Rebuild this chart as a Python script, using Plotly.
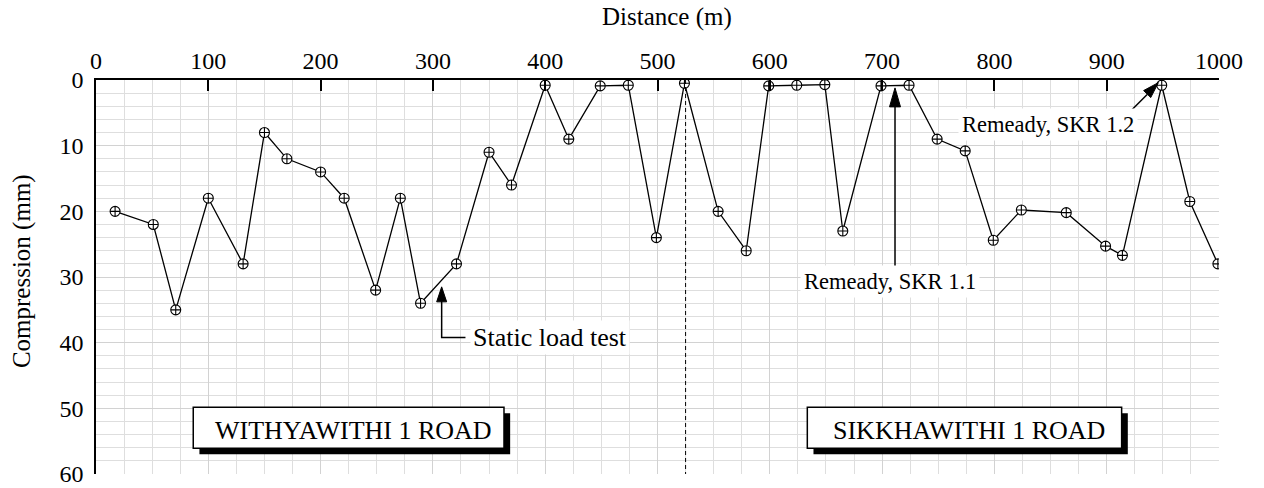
import math
import plotly.graph_objects as go

# ---- data ----
distance = [17, 51, 71, 100, 131, 150, 170, 200, 221, 249, 271, 289, 321, 350, 370,
            400, 421, 449, 474, 499, 524, 554, 579, 599, 624, 649, 665, 699, 724,
            749, 774, 799, 824, 864, 899, 914, 949, 974, 999]
compression = [20, 22, 35, 18, 28, 8, 12, 14, 18, 32, 18, 34, 28, 11, 16,
               0.8, 9, 0.9, 0.8, 24, 0.5, 20, 26, 0.9, 0.8, 0.7, 23, 0.9, 0.8,
               9, 10.8, 24.4, 19.8, 20.2, 25.3, 26.7, 0.8, 18.5, 28]
x_ticks = [0, 100, 200, 300, 400, 500, 600, 700, 800, 900, 1000]
y_ticks = [0, 10, 20, 30, 40, 50, 60]
road_boundary = 525
road_names = ["WITHYAWITHI 1 ROAD", "SIKKHAWITHI 1 ROAD"]

FONT = 'Liberation Serif, "Times New Roman", Times, "DejaVu Serif", serif'

fig = go.Figure()
fig.add_trace(go.Scatter(
    x=distance, y=compression, mode="lines+markers",
    line=dict(color="black", width=1.3),
    marker=dict(symbol="circle-cross", size=10, color="white",
                line=dict(color="black", width=1.1)),
    showlegend=False, hoverinfo="skip"))

shapes = []
annotations = []

# dashed boundary between roads
shapes.append(dict(type="line", xref="x", yref="y", x0=road_boundary, x1=road_boundary,
                   y0=0, y1=60, line=dict(color="black", width=1, dash="4px,3px"),
                   layer="above"))

def tri(tip_x, tip_y, dx, dy, length=15, width=10):
    # dx, dy: direction in pixel units (y up)
    n = math.hypot(dx, dy)
    ux, uy = dx / n, dy / n
    bx, by = -ux * length, -uy * length
    px, py = -uy * width / 2, ux * width / 2
    path = f"M0,0 L{bx+px:.2f},{by+py:.2f} L{bx-px:.2f},{by-py:.2f} Z"
    return dict(type="path", xref="x", yref="y", xsizemode="pixel", ysizemode="pixel",
                xanchor=tip_x, yanchor=tip_y, path=path,
                fillcolor="black", line=dict(color="black", width=1), layer="above")

# Static load test arrow (elbow)
shapes.append(dict(type="path", xref="x", yref="y",
                   path="M 329,39.2 L 307.8,39.2 L 307.8,33.5",
                   line=dict(color="black", width=1.5), layer="above"))
shapes.append(tri(307.8, 31.5, 0, 1, length=15, width=10))
annotations.append(dict(x=333, y=39.2, xref="x", yref="y", text="Static load test",
                        showarrow=False, xanchor="left", yanchor="middle",
                        font=dict(family=FONT, size=26, color="black"),
                        bgcolor="white", borderpad=2))

# Remeady SKR 1.1 arrow (vertical)
shapes.append(dict(type="line", xref="x", yref="y", x0=711.5, x1=711.5, y0=28.7, y1=3.5,
                   line=dict(color="black", width=1.5), layer="above"))
shapes.append(tri(711.5, 1.2, 0, 1, length=19, width=11))
annotations.append(dict(x=707, y=30.7, xref="x", yref="y", text="Remeady, SKR 1.1",
                        showarrow=False, xanchor="center", yanchor="middle",
                        font=dict(family=FONT, size=22.5, color="black"),
                        bgcolor="white", borderpad=3))

# Remeady SKR 1.2 arrow (diagonal)
shapes.append(dict(type="line", xref="x", yref="y", x0=922, y0=4.6, x1=936, y1=2.2,
                   line=dict(color="black", width=1.5), layer="above"))
shapes.append(tri(946, 0.4, 27, 27.6, length=16, width=10))
annotations.append(dict(x=848, y=6.85, xref="x", yref="y", text="Remeady, SKR 1.2",
                        showarrow=False, xanchor="center", yanchor="middle",
                        font=dict(family=FONT, size=22.5, color="black"),
                        bgcolor="white", borderpad=3))

# Road label boxes with drop shadows
boxes = [(86.6, 363.3), (633.4, 913.3)]
for (bx0, bx1), name in zip(boxes, road_names):
    shapes.append(dict(type="rect", xref="x", yref="y", x0=bx0 + 5.5, x1=bx1 + 5.5,
                       y0=49.84 + 0.9, y1=56.08 + 0.9, fillcolor="black",
                       line=dict(width=0), layer="above"))
    shapes.append(dict(type="rect", xref="x", yref="y", x0=bx0, x1=bx1,
                       y0=49.84, y1=56.08, fillcolor="white",
                       line=dict(color="black", width=1.5), layer="above"))
    annotations.append(dict(x=(bx0 + bx1) / 2 + 4, y=53.3, xref="x", yref="y", text=name,
                            showarrow=False, xanchor="center", yanchor="middle",
                            font=dict(family=FONT, size=26, color="black")))

# axis titles
annotations.append(dict(x=0.5085, y=1.16, xref="paper", yref="paper", text="Distance (m)",
                        showarrow=False, xanchor="center", yanchor="middle",
                        font=dict(family=FONT, size=25, color="black")))
annotations.append(dict(x=-0.0659, y=0.515, xref="paper", yref="paper",
                        text="Compression (mm)", textangle=-90,
                        showarrow=False, xanchor="center", yanchor="middle",
                        font=dict(family=FONT, size=25, color="black")))

fig.update_layout(
    width=1264, height=488,
    margin=dict(l=96, r=45, t=80, b=14, autoexpand=False),
    paper_bgcolor="white", plot_bgcolor="white",
    font=dict(family=FONT, size=24, color="black"),
    shapes=shapes, annotations=annotations,
    xaxis=dict(side="top", range=[0, 1000], tickvals=x_ticks, automargin=False,
               ticks="inside", ticklen=11, tickwidth=1.5, tickcolor="black",
               showline=True, linecolor="black", linewidth=1.5,
               showgrid=True, gridcolor="#d2d2d2", gridwidth=1.3,
               minor=dict(dtick=25, showgrid=True, gridcolor="#dedede", gridwidth=1),
               zeroline=False, tickfont=dict(family=FONT, size=24),
               ticklabelstandoff=0, ticklabeloverflow="allow"),
    yaxis=dict(range=[60, 0], tickvals=y_ticks, automargin=False,
               ticks="", showline=True, linecolor="black", linewidth=1.5,
               showgrid=True, gridcolor="#d2d2d2", gridwidth=1.3,
               minor=dict(dtick=2, showgrid=True, gridcolor="#dedede", gridwidth=1),
               zeroline=False, tickfont=dict(family=FONT, size=24),
               ticklabelstandoff=6, ticklabeloverflow="allow"),
)

# remove the default 8px page margin so the figure sits at the window origin
fig.write_html("out.html", config={"displayModeBar": False},
               post_script="document.body.style.margin='0';document.body.style.overflow='hidden';")
